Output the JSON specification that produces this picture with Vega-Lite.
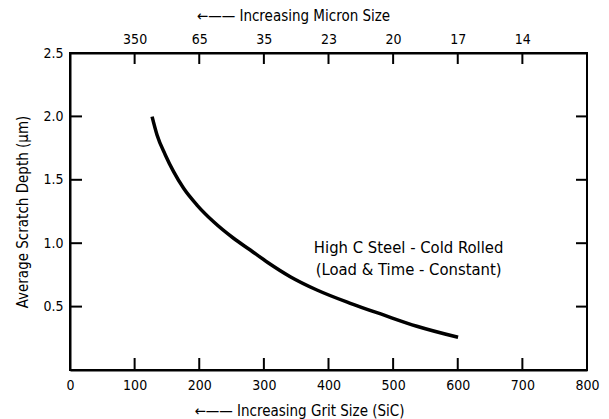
{
  "$schema": "https://vega.github.io/schema/vega-lite/v6.json",
  "width": 517,
  "height": 317,
  "autosize": {"type": "none"},
  "padding": {"left": 70, "top": 53, "right": 22, "bottom": 49},
  "background": "white",
  "config": {
    "view": {"stroke": "black", "strokeWidth": 2},
    "font": "DejaVu Sans Condensed, Roboto, sans-serif",
    "axis": {
      "domainColor": "black", "domainWidth": 2, "tickColor": "black", "tickWidth": 1.5,
      "labelColor": "black", "titleColor": "black", "grid": false,
      "labelFont": "DejaVu Sans Condensed, Roboto, sans-serif", "titleFont": "DejaVu Sans Condensed, Roboto, sans-serif",
      "labelFontSize": 14, "titleFontSize": 15, "titleFontWeight": "normal"
    }
  },
  "datasets": {
    "xticks": [{"pos": 100}, {"pos": 200}, {"pos": 300}, {"pos": 400}, {"pos": 500}, {"pos": 600}, {"pos": 700}],
    "yticks": [{"pos": 0.5}, {"pos": 1.0}, {"pos": 1.5}, {"pos": 2.0}]
  },
  "layer": [
    {
      "data": {"values": [
        {"grit": 127, "depth": 1.998},
        {"grit": 134.7, "depth": 1.853},
        {"grit": 147.5, "depth": 1.696},
        {"grit": 160.3, "depth": 1.564},
        {"grit": 175.8, "depth": 1.433},
        {"grit": 196.5, "depth": 1.301},
        {"grit": 222.2, "depth": 1.169},
        {"grit": 253.1, "depth": 1.039},
        {"grit": 279, "depth": 0.946},
        {"grit": 306, "depth": 0.848},
        {"grit": 340.8, "depth": 0.736},
        {"grit": 382.1, "depth": 0.631},
        {"grit": 433.8, "depth": 0.526},
        {"grit": 485.1, "depth": 0.434},
        {"grit": 536.7, "depth": 0.345},
        {"grit": 600.5, "depth": 0.258}
      ]},
      "mark": {"type": "line", "color": "black", "strokeWidth": 3.5, "interpolate": "monotone"},
      "encoding": {
        "x": {
          "field": "grit", "type": "quantitative",
          "scale": {"domain": [0, 800], "nice": false, "zero": false},
          "axis": {
            "orient": "bottom", "values": [0, 100, 200, 300, 400, 500, 600, 700, 800],
            "ticks": false, "labelPadding": 8, "labelFlush": false,
            "title": "←—— Increasing  Grit  Size  (SiC)", "titlePadding": 11,
            "titleX": 229, "titleAnchor": "middle"
          }
        },
        "y": {
          "field": "depth", "type": "quantitative",
          "scale": {"domain": [0, 2.5], "nice": false},
          "axis": {
            "orient": "left", "values": [0, 0.5, 1, 1.5, 2, 2.5],
            "labelExpr": "datum.value == 0 ? '' : format(datum.value, '.1f')",
            "ticks": false, "labelPadding": 7, "labelFlush": false,
            "title": "Average  Scratch  Depth  (μm)", "titlePadding": 12
          }
        }
      }
    },
    {
      "data": {"values": [{"grit": 0, "depth": 0}]},
      "mark": {"type": "point", "opacity": 0},
      "encoding": {
        "x": {
          "field": "grit", "type": "quantitative",
          "axis": {
            "orient": "top", "values": [100, 200, 300, 400, 500, 600, 700],
            "labelExpr": "{'100':'350','200':'65','300':'35','400':'23','500':'20','600':'17','700':'14'}[datum.label]",
            "ticks": false, "labelPadding": 7, "labelFlush": false,
            "title": "←—— Increasing  Micron  Size", "titlePadding": 9,
            "titleX": 223, "titleAnchor": "middle"
          }
        },
        "y": {"field": "depth", "type": "quantitative", "axis": null}
      }
    },
    {
      "data": {"name": "xticks"},
      "mark": {"type": "tick", "orient": "vertical", "color": "black", "size": 12, "thickness": 2, "yOffset": -6, "opacity": 1},
      "encoding": {
        "x": {"field": "pos", "type": "quantitative", "axis": null},
        "y": {"datum": 0, "type": "quantitative", "axis": null}
      }
    },
    {
      "data": {"name": "xticks"},
      "mark": {"type": "tick", "orient": "vertical", "color": "black", "size": 11, "thickness": 2, "yOffset": 5.5, "opacity": 1},
      "encoding": {
        "x": {"field": "pos", "type": "quantitative", "axis": null},
        "y": {"datum": 2.5, "type": "quantitative", "axis": null}
      }
    },
    {
      "data": {"name": "yticks"},
      "mark": {"type": "tick", "orient": "horizontal", "color": "black", "size": 12, "thickness": 2, "xOffset": 6, "opacity": 1},
      "encoding": {
        "y": {"field": "pos", "type": "quantitative", "axis": null},
        "x": {"datum": 0, "type": "quantitative", "axis": null}
      }
    },
    {
      "data": {"name": "yticks"},
      "mark": {"type": "tick", "orient": "horizontal", "color": "black", "size": 11, "thickness": 2, "xOffset": -5.5, "opacity": 1},
      "encoding": {
        "y": {"field": "pos", "type": "quantitative", "axis": null},
        "x": {"datum": 800, "type": "quantitative", "axis": null}
      }
    },
    {
      "data": {"values": [
        {"grit": 524, "depth": 0.962, "label": "High C Steel  -  Cold Rolled"},
        {"grit": 524, "depth": 0.789, "label": "(Load  &  Time  -  Constant)"}
      ]},
      "mark": {"type": "text", "font": "DejaVu Sans Condensed, Roboto, sans-serif", "fontSize": 16.5, "color": "black", "align": "center", "baseline": "middle"},
      "encoding": {
        "x": {"field": "grit", "type": "quantitative", "axis": null},
        "y": {"field": "depth", "type": "quantitative", "axis": null},
        "text": {"field": "label"}
      }
    }
  ],
  "resolve": {"axis": {"x": "independent", "y": "independent"}}
}
